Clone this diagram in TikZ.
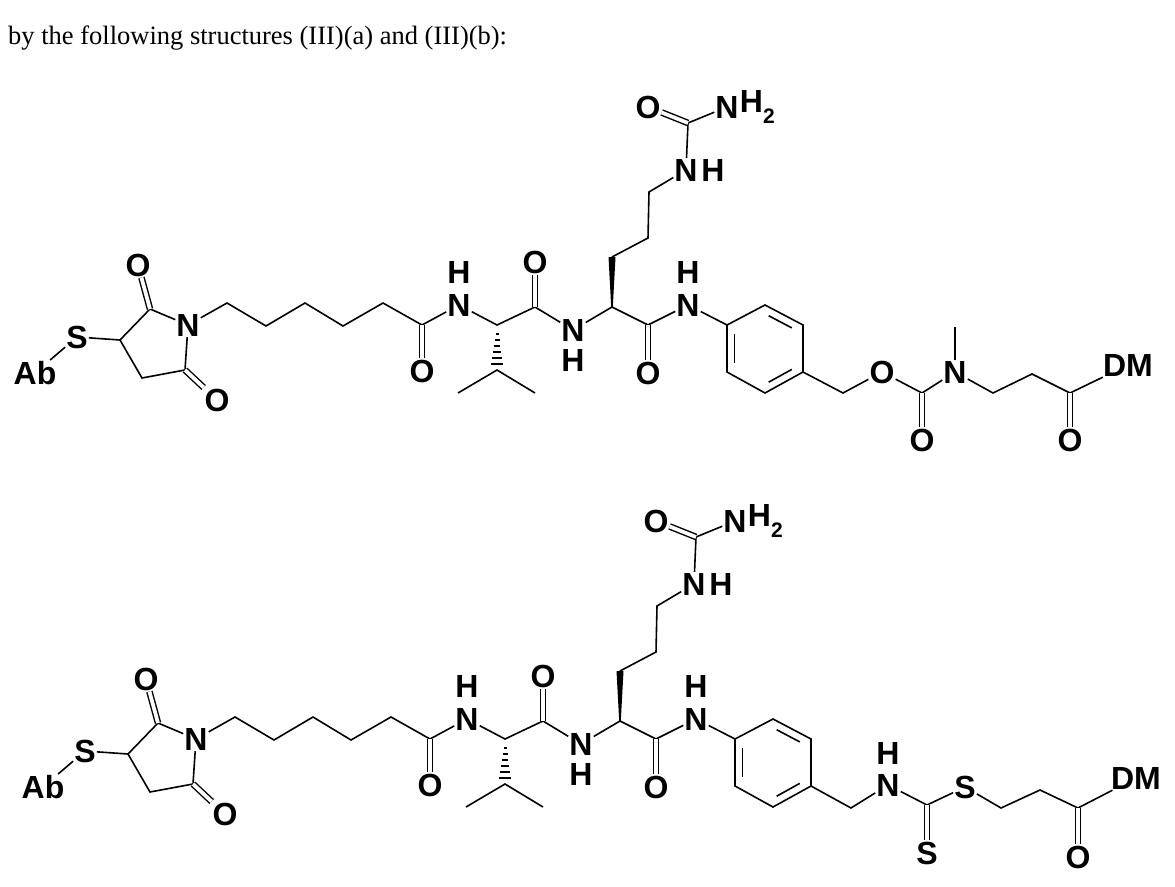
\documentclass[tikz,border=0pt]{standalone}
\usepackage{fontspec}
\setmainfont{Liberation Serif}
\newfontfamily\atomfam{Liberation Sans}
\usetikzlibrary{calc}
\newcommand\atomfont{\atomfam\bfseries\fontsize{32}{32}\selectfont}
\tikzset{
  bond/.style={line width=1.6pt},
  dbl/.style={line width=1.4pt,double,double distance=3.8pt},
  atom/.style={font=\atomfont, inner sep=1pt},
}
\newcommand\molcore[3]{%
\begin{scope}[shift={(#2,#3)}]
 \node[atom] (#1Ab) at (35,373) {Ab};
 \node[atom] (#1S) at (77,337) {S};
 \coordinate (#1c3) at (120,340);
 \coordinate (#1c2) at (150,309);
 \node[atom] (#1o1) at (138,265) {O};
 \node[atom] (#1N1) at (188,325) {N};
 \coordinate (#1c5) at (185,370);
 \node[atom] (#1o2) at (217,400) {O};
 \coordinate (#1c4) at (142,378);
 \coordinate (#1k1) at (227,303);
 \coordinate (#1k2) at (266,326);
 \coordinate (#1k3) at (305,303);
 \coordinate (#1k4) at (343,326);
 \coordinate (#1k5) at (383,303);
 \coordinate (#1c6) at (422,325);
 \node[atom] (#1o3) at (422,371) {O};
 \node[atom] (#1n2) at (459,305) {N};
 \node[atom] (#1h2) at (459,272) {H};
 \coordinate (#1a1) at (497,325);
 \coordinate (#1b1) at (497,370);
 \coordinate (#1b2) at (458,393);
 \coordinate (#1b3) at (535,393);
 \coordinate (#1c7) at (535,307);
 \node[atom] (#1o4) at (535,262) {O};
 \node[atom] (#1n3) at (573,330) {N};
 \node[atom] (#1h3) at (573,360) {H};
 \coordinate (#1a2) at (612,307);
 \coordinate (#1s1) at (612,257);
 \coordinate (#1s2) at (648,238);
 \coordinate (#1s3) at (649,192);
 \node[atom] (#1n4) at (686,170) {N};
 \node[atom] (#1h4) at (713,170) {H};
 \coordinate (#1c8) at (688,123);
 \node[atom] (#1o5) at (648,107) {O};
 \node[atom] (#1n6) at (727,107) {N};
 \node[atom,anchor=west,inner sep=0pt] (#1h6) at ($(#1n6.east)+(0,0)$) {H\raisebox{-0.35em}{\fontsize{21}{21}\selectfont 2}};
 \coordinate (#1c9) at (648,325);
 \node[atom] (#1o6) at (648,373) {O};
 \node[atom] (#1n5) at (688,305) {N};
 \node[atom] (#1h5) at (688,272) {H};
 \coordinate (#1A) at (727,325);
 \coordinate (#1B) at (765,305);
 \coordinate (#1C) at (803,325);
 \coordinate (#1D) at (803,372);
 \coordinate (#1E) at (765,393);
 \coordinate (#1F) at (727,372);
 \coordinate (#1ctr) at (765,349);
 \foreach \v in {A,B,C,D,E,F} {\coordinate (#1i\v) at ($(#1ctr)!0.8!(#1\v)$);}
 % bonds
 \draw[bond] (#1Ab) -- (#1S);
 \draw[bond] (#1S) -- (#1c3) -- (#1c2) -- (#1N1);
 \draw[bond] (#1c3) -- (#1c4) -- (#1c5) -- (#1N1);
 \draw[dbl] (#1c2) -- (#1o1);
 \draw[dbl] (#1c5) -- (#1o2);
 \draw[bond] (#1N1) -- (#1k1) -- (#1k2) -- (#1k3) -- (#1k4) -- (#1k5) -- (#1c6) -- (#1n2);
 \draw[dbl] (#1c6) -- (#1o3);
 \draw[bond] (#1n2) -- (#1a1) -- (#1c7) -- (#1n3);
 \draw[dbl] (#1c7) -- (#1o4);
 \draw[bond] (#1b2) -- (#1b1) -- (#1b3);
 \foreach \yy/\ww in {334/1.5,340/2.5,346/3.3,352/4.2,358/5,364/5.8} {\draw[line width=1.4pt] ($(#1a1)+(-\ww,\yy-325)$) -- ($(#1a1)+(\ww,\yy-325)$);}
 \draw[bond] (#1n3) -- (#1a2) -- (#1c9) -- (#1n5);
 \fill ($(#1a2)+(-0.8,0)$) -- ($(#1a2)+(0.8,0)$) -- ($(#1s1)+(3.5,0)$) -- ($(#1s1)+(-3.5,0)$) -- cycle;
 \draw[bond] (#1s1) -- (#1s2) -- (#1s3) -- (#1n4);
 \draw[bond] (#1n4) -- (#1c8) -- (#1n6);
 \draw[dbl] (#1c8) -- (#1o5);
 \draw[dbl] (#1c9) -- (#1o6);
 \draw[bond] (#1n5) -- (#1A);
 \draw[bond] (#1A) -- (#1B) -- (#1C) -- (#1D) -- (#1E) -- (#1F) -- cycle;
 \draw[bond] ($(#1iB)!0.12!(#1iC)$) -- ($(#1iB)!0.88!(#1iC)$);
 \draw[bond] ($(#1iD)!0.12!(#1iE)$) -- ($(#1iD)!0.88!(#1iE)$);
 \draw[bond] ($(#1iF)!0.12!(#1iA)$) -- ($(#1iF)!0.88!(#1iA)$);
\end{scope}}
\begin{document}
\begin{tikzpicture}[x=1pt,y=-1pt]
\useasboundingbox (0,0) rectangle (1175,886);
\node[anchor=west,inner sep=0pt,font=\fontsize{26.5}{26.5}\selectfont] (cap) at (8,38) {by the following structures (III)(a) and (III)(b):};
\molcore{t}{0}{0}
\molcore{u}{8}{414}
% top tail
\coordinate (tm1) at (843,393);
\node[atom] (tO) at (882,372) {O};
\coordinate (tc10) at (922,393);
\node[atom] (to7) at (922,440) {O};
\node[atom] (tN) at (955,372) {N};
\coordinate (tme) at (955,327);
\coordinate (td1) at (993,393);
\coordinate (td2) at (1032,374);
\coordinate (tc11) at (1070,393);
\node[atom] (to8) at (1070,440) {O};
\node[atom] (tDM) at (1128,365) {DM};
\draw[bond] (tD) -- (tm1) -- (tO) -- (tc10) -- (tN) -- (tme);
\draw[dbl] (tc10) -- (to7);
\draw[bond] (tN) -- (td1) -- (td2) -- (tc11) -- (tDM);
\draw[dbl] (tc11) -- (to8);
% bottom tail
\coordinate (um1) at (851,808);
\node[atom] (uN) at (888,785) {N};
\node[atom] (uH) at (888,753) {H};
\coordinate (uc) at (927,805);
\node[atom] (uS2) at (927,853) {S};
\node[atom] (uS) at (965,787) {S};
\coordinate (ue1) at (1001,808);
\coordinate (ue2) at (1040,790);
\coordinate (ue3) at (1078,808);
\node[atom] (uO) at (1078,857) {O};
\node[atom] (uDM) at (1136,778) {DM};
\draw[bond] (uD) -- (um1) -- (uN) -- (uc) -- (uS) -- (ue1) -- (ue2) -- (ue3) -- (uDM);
\draw[dbl] (uc) -- (uS2);
\draw[dbl] (ue3) -- (uO);
\end{tikzpicture}
\end{document}
